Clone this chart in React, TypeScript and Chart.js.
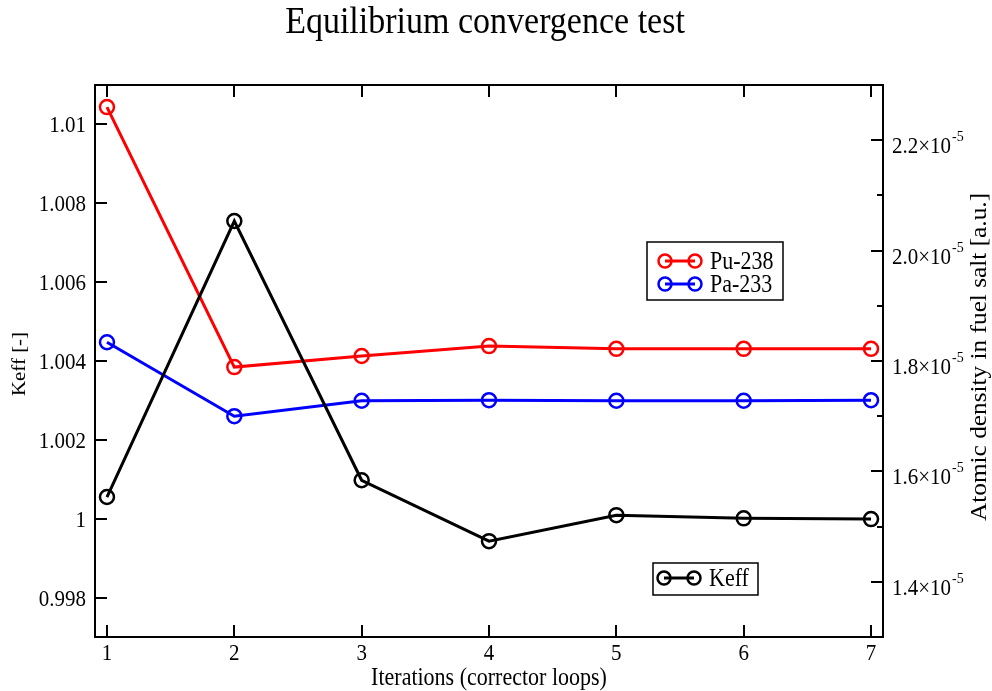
import React, { useEffect, useRef } from "react";
import { Chart, registerables } from "chart.js";

Chart.register(...registerables);

const iterations = [1, 2, 3, 4, 5, 6, 7];
const keff = [1.00055, 1.00755, 1.000975, 0.99943, 1.00009, 1.00001, 0.99999];
const pu238 = [2.26e-5, 1.789e-5, 1.809e-5, 1.827e-5, 1.822e-5, 1.822e-5, 1.822e-5];
const pa233 = [1.834e-5, 1.7e-5, 1.728e-5, 1.729e-5, 1.728e-5, 1.728e-5, 1.729e-5];

const xTicks = [1, 2, 3, 4, 5, 6, 7];
const keffTicks = [0.998, 1, 1.002, 1.004, 1.006, 1.008, 1.01];
const keffTickLabels = ["0.998", "1", "1.002", "1.004", "1.006", "1.008", "1.01"];
const densityTicks = [1.4e-5, 1.6e-5, 1.8e-5, 2.0e-5, 2.2e-5];
const densityTickMantissas = ["1.4", "1.6", "1.8", "2.0", "2.2"];
const densityMinorTicks = [1.5e-5, 1.7e-5, 1.9e-5, 2.1e-5];

const TITLE = "Equilibrium convergence test";
const X_TITLE = "Iterations (corrector loops)";
const Y_TITLE = "Keff [-]";
const Y2_TITLE = "Atomic density in fuel salt [a.u.]";

const FONT = "'Liberation Serif', 'Times New Roman', serif";
const STRETCH = 1.1;

const toPoints = (vals: number[]) => iterations.map((x, i) => ({ x, y: vals[i] }));

function txt(
  ctx: CanvasRenderingContext2D,
  s: string,
  x: number,
  y: number,
  size: number,
  align: CanvasTextAlign,
  baseline: CanvasTextBaseline,
  rotated = false
) {
  ctx.save();
  ctx.translate(x, y);
  ctx.scale(1, STRETCH);
  if (rotated) ctx.rotate(-Math.PI / 2);
  ctx.font = `${size}px ${FONT}`;
  ctx.textAlign = align;
  ctx.textBaseline = baseline;
  ctx.fillStyle = "#000";
  ctx.fillText(s, 0, 0);
  ctx.restore();
}

const decorPlugin = {
  id: "decor",
  beforeDraw(chart: any) {
    const { ctx, width, height } = chart;
    ctx.save();
    ctx.fillStyle = "#ffffff";
    ctx.fillRect(0, 0, width, height);
    ctx.restore();
  },
  afterDraw(chart: any) {
    const ctx: CanvasRenderingContext2D = chart.ctx;
    const { left, right, top, bottom } = chart.chartArea;
    const sx = chart.scales.x;
    const sy = chart.scales.y;
    const sy2 = chart.scales.y2;
    ctx.save();
    ctx.strokeStyle = "#000";
    ctx.fillStyle = "#000";
    ctx.lineWidth = 2;
    ctx.strokeRect(left, top, right - left, bottom - top);

    const major = 12;
    const minor = 6;
    ctx.beginPath();
    xTicks.forEach((t) => {
      const px = Math.round(sx.getPixelForValue(t));
      ctx.moveTo(px, bottom);
      ctx.lineTo(px, bottom - major);
      ctx.moveTo(px, top);
      ctx.lineTo(px, top + major);
    });
    keffTicks.forEach((t) => {
      const py = Math.round(sy.getPixelForValue(t));
      ctx.moveTo(left, py);
      ctx.lineTo(left + major, py);
    });
    densityTicks.forEach((t) => {
      const py = Math.round(sy2.getPixelForValue(t));
      ctx.moveTo(right, py);
      ctx.lineTo(right - major, py);
    });
    densityMinorTicks.forEach((t) => {
      const py = Math.round(sy2.getPixelForValue(t));
      ctx.moveTo(right, py);
      ctx.lineTo(right - minor, py);
    });
    ctx.stroke();

    // tick labels
    xTicks.forEach((t) => {
      txt(ctx, String(t), sx.getPixelForValue(t), bottom + 23, 21, "center", "alphabetic");
    });
    keffTicks.forEach((t, i) => {
      txt(ctx, keffTickLabels[i], left - 9, sy.getPixelForValue(t) + 8, 21, "right", "alphabetic");
    });
    densityTicks.forEach((t, i) => {
      const py = sy2.getPixelForValue(t);
      const base = densityTickMantissas[i] + "\u00d710";
      txt(ctx, base, right + 9, py + 13, 21, "left", "alphabetic");
      ctx.font = `21px ${FONT}`;
      const w = ctx.measureText(base).width;
      txt(ctx, "-5", right + 9 + w + 1, py + 1, 14, "left", "alphabetic");
    });

    // axis titles
    txt(ctx, X_TITLE, (left + right) / 2, bottom + 48, 22, "center", "alphabetic");
    txt(ctx, Y_TITLE, 20, 364, 19, "center", "middle", true);
    txt(ctx, Y2_TITLE, 980, (top + bottom) / 2 - 4, 23, "center", "middle", true);

    // title
    txt(ctx, TITLE, 485, 33, 34, "center", "alphabetic");

    // legends
    const drawEntry = (x0: number, yc: number, color: string, label: string) => {
      ctx.strokeStyle = color;
      ctx.lineWidth = 3;
      ctx.beginPath();
      ctx.moveTo(x0, yc);
      ctx.lineTo(x0 + 30, yc);
      ctx.stroke();
      ctx.lineWidth = 2.5;
      [x0, x0 + 30].forEach((cx) => {
        ctx.beginPath();
        ctx.arc(cx, yc, 6.5, 0, Math.PI * 2);
        ctx.stroke();
      });
      txt(ctx, label, x0 + 45, yc + 8, 22, "left", "alphabetic");
    };
    ctx.strokeStyle = "#000";
    ctx.lineWidth = 1.5;
    ctx.strokeRect(647, 242, 136, 58);
    drawEntry(665, 261, "#ff0000", "Pu-238");
    drawEntry(665, 284, "#0000ff", "Pa-233");
    ctx.strokeStyle = "#000";
    ctx.lineWidth = 1.5;
    ctx.strokeRect(653, 563, 105, 32);
    drawEntry(664, 578, "#000000", "Keff");
    ctx.restore();
  },
};

export default function App() {
  const ref = useRef<HTMLCanvasElement | null>(null);
  useEffect(() => {
    document.body.style.margin = "0";
    const canvas = ref.current;
    if (!canvas) return;
    const common = {
      borderWidth: 3,
      pointRadius: 7,
      pointHoverRadius: 7,
      pointBorderWidth: 2.5,
      pointBackgroundColor: "rgba(0,0,0,0)",
      fill: false,
      tension: 0,
    };
    const chart = new Chart(canvas, {
      type: "line",
      data: {
        datasets: [
          {
            ...common,
            label: "Keff",
            data: toPoints(keff),
            borderColor: "#000000",
            pointBorderColor: "#000000",
            yAxisID: "y",
          },
          {
            ...common,
            label: "Pu-238",
            data: toPoints(pu238),
            borderColor: "#ff0000",
            pointBorderColor: "#ff0000",
            yAxisID: "y2",
          },
          {
            ...common,
            label: "Pa-233",
            data: toPoints(pa233),
            borderColor: "#0000ff",
            pointBorderColor: "#0000ff",
            yAxisID: "y2",
          },
        ],
      },
      options: {
        responsive: false,
        animation: false,
        events: [],
        layout: { padding: { left: 95, right: 109, top: 85, bottom: 54 } },
        plugins: { legend: { display: false }, title: { display: false }, tooltip: { enabled: false } },
        scales: {
          x: { type: "linear", min: 0.906, max: 7.094, display: false },
          y: { type: "linear", position: "left", min: 0.997, max: 1.011, display: false },
          y2: { type: "linear", position: "right", min: 1.3e-5, max: 2.3e-5, display: false },
        },
      },
      plugins: [decorPlugin],
    });
    return () => chart.destroy();
  }, []);
  return (
    <div style={{ position: "fixed", left: 0, top: 0, width: 992, height: 691 }}>
      <canvas ref={ref} width={992} height={691} />
    </div>
  );
}
